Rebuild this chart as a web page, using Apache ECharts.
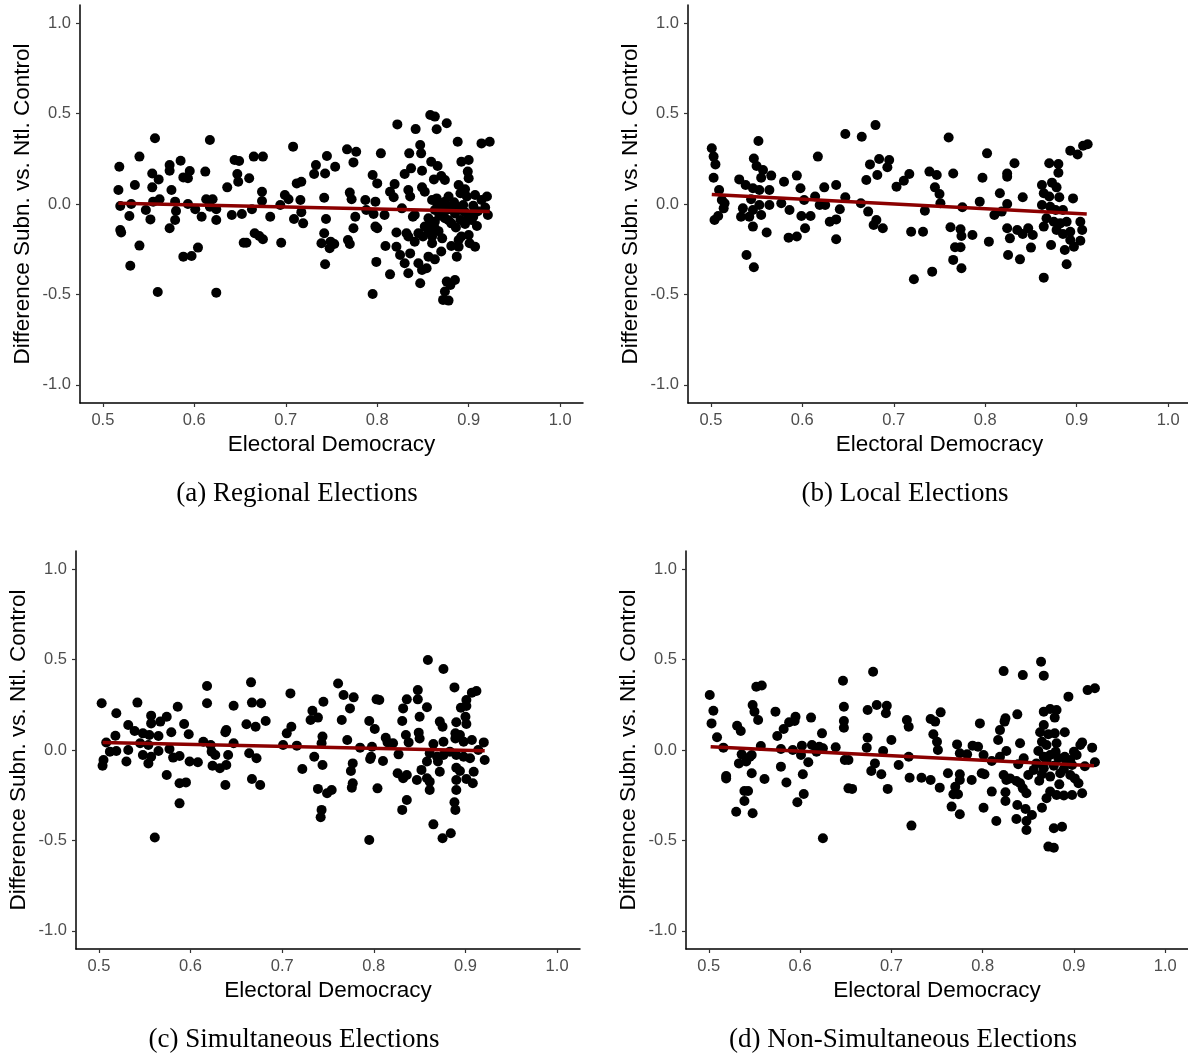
<!DOCTYPE html>
<html>
<head>
<meta charset="utf-8">
<title>Electoral Democracy scatter</title>
<script src="https://cdn.jsdelivr.net/npm/echarts@6/dist/echarts.min.js"></script>
<style>
  html, body { margin: 0; padding: 0; background: #fff; }
  #chart { width: 1188px; height: 1055px; }
</style>
</head>
<body>
<div id="chart"></div>
<script>
// tick labels
const xTicks = [0.5, 0.6, 0.7, 0.8, 0.9, 1.0]
const yTicks = [-1.0, -0.5, 0.0, 0.5, 1.0]

// (a) regional elections: [democracy, difference]
const regionalPts = [
  [0.557,0.363],[0.617,0.354],[0.540,0.262],[0.518,0.206],[0.573,0.215],[0.573,0.184],[0.585,0.239],[0.554,0.169],[0.561,0.136],[0.595,0.182],
  [0.588,0.147],[0.593,0.142],[0.612,0.179],[0.644,0.243],[0.649,0.238],[0.665,0.262],[0.675,0.262],[0.708,0.317],[0.647,0.166],[0.648,0.123],
  [0.660,0.142],[0.636,0.092],[0.674,0.068],[0.712,0.114],[0.717,0.123],[0.517,0.077],[0.535,0.105],[0.554,0.092],[0.575,0.077],[0.519,-0.011],
  [0.531,0.000],[0.529,-0.066],[0.547,-0.033],[0.552,-0.085],[0.555,0.013],[0.562,0.026],[0.579,0.013],[0.580,-0.039],[0.579,-0.088],[0.573,-0.134],
  [0.593,0.000],[0.601,-0.029],[0.608,-0.070],[0.613,0.026],[0.620,0.026],[0.617,-0.015],[0.624,-0.029],[0.624,-0.088],[0.641,-0.061],[0.652,-0.055],
  [0.663,-0.029],[0.674,0.017],[0.683,-0.070],[0.694,-0.006],[0.699,0.050],[0.703,0.026],[0.716,0.022],[0.709,-0.083],[0.719,-0.107],[0.519,-0.144],
  [0.520,-0.158],[0.540,-0.230],[0.530,-0.341],[0.560,-0.486],[0.624,-0.490],[0.588,-0.291],[0.597,-0.287],[0.604,-0.241],[0.654,-0.214],[0.657,-0.214],
  [0.666,-0.162],[0.671,-0.177],[0.675,-0.195],[0.695,-0.214],
  [0.717,-0.045],[0.745,0.265],[0.733,0.215],[0.731,0.166],[0.743,0.169],[0.754,0.206],[0.767,0.302],[0.777,0.289],[0.774,0.230],[0.742,0.035],
  [0.744,-0.083],[0.742,-0.162],[0.739,-0.217],[0.749,-0.208],[0.753,-0.221],[0.748,-0.245],[0.743,-0.333],[0.770,0.063],[0.772,0.026],[0.768,-0.199],
  [0.770,-0.221],[0.776,-0.070],[0.774,-0.134],[0.787,0.022],[0.798,0.013],[0.788,-0.033],[0.796,-0.055],[0.804,0.280],[0.795,0.160],[0.800,0.114],
  [0.798,-0.125],[0.800,-0.134],[0.808,-0.061],[0.809,-0.232],[0.799,-0.320],[0.795,-0.497],[0.814,-0.389],[0.822,0.440],[0.814,0.068],[0.819,0.110],
  [0.818,0.037],[0.821,-0.158],[0.821,-0.236],[0.825,-0.282],[0.830,0.166],[0.837,0.197],[0.835,0.280],[0.848,0.280],[0.847,0.326],[0.842,0.414],
  [0.834,0.077],[0.836,0.041],[0.827,-0.024],[0.832,-0.162],[0.834,-0.180],[0.836,-0.273],[0.830,-0.328],[0.834,-0.383],[0.845,-0.328],[0.849,-0.365],
  [0.854,-0.355],[0.847,-0.438],[0.849,0.184],[0.849,0.092],[0.852,0.068],[0.841,-0.061],[0.839,-0.070],[0.858,0.492],[0.863,0.483],[0.876,0.446],
  [0.865,0.413],[0.859,0.234],[0.866,0.210],[0.862,0.136],[0.870,0.155],[0.874,0.133],[0.860,0.022],[0.865,0.031],[0.869,0.004],[0.874,0.013],
  [0.878,0.041],[0.863,-0.033],[0.870,-0.052],[0.876,-0.033],[0.881,-0.015],[0.856,-0.079],[0.863,-0.098],[0.874,-0.079],[0.881,-0.107],[0.891,-0.088],
  [0.885,-0.052],[0.892,-0.033],[0.894,-0.006],[0.852,-0.125],[0.856,-0.153],[0.860,-0.180],[0.850,-0.180],[0.863,-0.134],[0.845,-0.162],[0.841,-0.208],
  [0.860,-0.217],[0.870,-0.263],[0.863,-0.306],[0.856,-0.291],[0.881,-0.232],[0.889,-0.199],[0.892,-0.180],[0.900,-0.171],[0.901,-0.217],[0.889,-0.236],
  [0.907,-0.236],[0.909,-0.122],[0.887,-0.291],[0.876,-0.429],[0.885,-0.420],[0.880,-0.448],[0.874,-0.484],[0.872,-0.530],[0.878,-0.534],[0.888,0.344],
  [0.892,0.234],[0.900,0.243],[0.899,0.179],[0.900,0.142],[0.889,0.105],[0.896,0.081],[0.891,0.059],[0.898,0.041],[0.907,0.050],[0.920,0.041],
  [0.914,0.022],[0.921,-0.061],[0.914,0.335],[0.923,0.344],[0.900,-0.070],[0.903,-0.088],
  [0.866,-0.010],[0.872,-0.020],[0.884,0.010],[0.888,-0.020],[0.896,-0.045],[0.905,-0.010],[0.910,-0.040],[0.868,-0.065],[0.878,-0.090],[0.858,-0.110],
  [0.886,-0.130],[0.896,-0.110],[0.905,-0.070],[0.918,-0.020],[0.867,-0.150],[0.871,-0.190]
]
const regionalFit = [[0.517, 0.004], [0.923, -0.042]]

// (b) local elections
const localPts = [
  [0.501,0.308],[0.503,0.262],[0.505,0.219],[0.503,0.145],[0.509,0.077],[0.512,0.022],[0.515,0.004],[0.514,-0.024],[0.508,-0.066],[0.504,-0.088],
  [0.552,0.348],[0.547,0.252],[0.550,0.210],[0.557,0.188],[0.555,0.145],[0.566,0.157],[0.531,0.136],[0.538,0.105],[0.546,0.087],[0.553,0.077],
  [0.564,0.077],[0.544,0.026],[0.553,-0.006],[0.564,-0.006],[0.535,-0.024],[0.533,-0.070],[0.542,-0.070],[0.555,-0.061],[0.546,-0.033],[0.546,-0.125],
  [0.561,-0.158],[0.539,-0.282],[0.547,-0.350],[0.580,0.123],[0.594,0.157],[0.598,0.087],[0.577,0.004],[0.586,-0.033],[0.602,0.022],[0.599,-0.066],
  [0.609,-0.066],[0.603,-0.134],[0.585,-0.186],[0.594,-0.180],[0.617,0.262],[0.614,0.041],[0.619,-0.006],[0.625,-0.006],[0.624,0.092],[0.637,0.105],
  [0.647,0.037],[0.641,-0.029],[0.637,-0.085],[0.630,-0.098],[0.637,-0.195],[0.647,0.387],[0.665,0.372],[0.680,0.436],[0.674,0.219],[0.684,0.249],
  [0.695,0.243],[0.693,0.203],[0.682,0.160],[0.670,0.133],[0.664,0.004],[0.672,-0.042],[0.681,-0.088],[0.678,-0.116],[0.688,-0.134],[0.703,0.096],
  [0.711,0.129],[0.717,0.166],[0.760,0.368],[0.739,0.179],[0.747,0.160],[0.765,0.169],[0.745,0.092],[0.750,0.055],[0.751,0.004],[0.734,-0.037],
  [0.719,-0.153],[0.732,-0.153],[0.762,-0.129],[0.773,-0.140],[0.774,-0.177],[0.767,-0.239],[0.773,-0.239],[0.786,-0.171],[0.765,-0.309],[0.774,-0.355],
  [0.742,-0.374],[0.722,-0.416],[0.775,-0.018],[0.794,0.013],[0.797,0.145],[0.802,0.280],[0.804,-0.208],[0.810,-0.061],[0.818,-0.042],[0.816,0.059],
  [0.824,0.000],[0.824,0.169],[0.824,0.151],[0.832,0.225],[0.824,-0.134],[0.835,-0.144],[0.827,-0.190],[0.841,-0.166],[0.847,-0.134],[0.852,-0.171],
  [0.850,-0.241],[0.841,0.037],[0.825,-0.282],[0.838,-0.306],[0.864,-0.407],[0.870,0.225],[0.880,0.221],[0.880,0.173],[0.862,0.105],[0.873,0.118],
  [0.878,0.092],[0.864,0.059],[0.870,0.041],[0.881,0.037],[0.896,0.031],[0.862,-0.006],[0.871,-0.015],[0.877,-0.033],[0.885,-0.033],[0.867,-0.079],
  [0.875,-0.098],[0.882,-0.107],[0.889,-0.098],[0.864,-0.125],[0.878,-0.144],[0.885,-0.166],[0.893,-0.153],[0.904,-0.098],[0.906,-0.144],[0.904,-0.203],
  [0.897,-0.236],[0.887,-0.254],[0.893,-0.199],[0.872,-0.227],[0.889,-0.333],[0.893,0.295],[0.901,0.274],[0.907,0.322],[0.912,0.330]
]
const localFit = [[0.501, 0.053], [0.911, -0.055]]

// (c) simultaneous elections
const simulPts = [
  [0.503,0.258],[0.519,0.203],[0.542,0.262],[0.532,0.138],[0.539,0.105],[0.518,0.079],[0.557,0.190],[0.567,0.157],[0.574,0.184],[0.557,0.147],
  [0.548,0.092],[0.555,0.083],[0.565,0.077],[0.579,0.098],[0.586,0.239],[0.593,0.144],[0.598,0.087],[0.508,0.041],[0.512,-0.009],[0.505,-0.055],
  [0.504,-0.087],[0.519,-0.006],[0.530,-0.064],[0.532,0.000],[0.548,-0.028],[0.554,-0.074],[0.557,-0.037],[0.565,-0.006],[0.554,0.028],[0.545,0.037],
  [0.577,0.006],[0.581,-0.042],[0.588,-0.033],[0.574,-0.138],[0.599,-0.064],[0.608,-0.068],[0.588,-0.184],[0.595,-0.179],[0.588,-0.295],[0.561,-0.484],
  [0.618,0.354],[0.618,0.258],[0.614,0.046],[0.622,0.028],[0.623,-0.009],[0.627,-0.028],[0.624,-0.087],[0.632,-0.101],[0.639,-0.083],[0.641,-0.028],
  [0.638,-0.193],[0.647,0.245],[0.638,0.098],[0.639,0.110],[0.647,0.037],[0.666,0.374],[0.667,0.262],[0.677,0.258],[0.661,0.142],[0.671,0.129],
  [0.682,0.160],[0.664,-0.018],[0.672,-0.046],[0.667,-0.160],[0.676,-0.193],[0.709,0.313],[0.701,0.028],[0.705,0.092],[0.710,0.129],
  [0.716,0.024],[0.745,0.267],[0.733,0.217],[0.739,0.179],[0.731,0.166],[0.761,0.368],[0.767,0.304],[0.778,0.291],[0.774,0.230],[0.765,0.166],
  [0.744,0.074],[0.743,0.037],[0.735,-0.037],[0.744,-0.083],[0.722,-0.105],[0.739,-0.215],[0.749,-0.239],[0.754,-0.221],[0.743,-0.331],[0.742,-0.372],
  [0.771,0.055],[0.785,0.013],[0.777,-0.074],[0.775,-0.116],[0.777,-0.184],[0.776,-0.208],[0.795,0.160],[0.801,0.116],[0.798,0.018],[0.797,-0.037],
  [0.796,-0.050],[0.810,-0.061],[0.804,-0.212],[0.795,-0.497],[0.803,0.280],[0.806,0.276],[0.813,0.068],[0.815,0.042],[0.821,0.037],[0.827,-0.024],
  [0.832,0.230],[0.831,0.160],[0.836,0.280],[0.848,0.331],[0.848,0.280],[0.850,0.184],[0.858,0.236],[0.835,0.083],[0.838,0.042],[0.849,0.096],
  [0.850,0.064],[0.826,-0.129],[0.832,-0.156],[0.836,-0.138],[0.847,-0.166],[0.852,-0.110],[0.858,-0.156],[0.861,-0.221],[0.861,-0.175],[0.836,-0.276],
  [0.831,-0.331],[0.859,0.497],[0.876,0.448],[0.865,-0.411],[0.875,-0.488],[0.884,-0.460],[0.888,0.346],[0.907,0.317],[0.912,0.326],[0.901,0.276],
  [0.895,0.234],[0.901,0.243],[0.872,0.157],[0.875,0.129],[0.890,0.153],[0.900,0.184],[0.901,0.144],[0.889,0.092],[0.894,0.083],[0.889,0.064],
  [0.898,0.046],[0.865,0.033],[0.876,0.046],[0.861,-0.018],[0.869,-0.037],[0.876,-0.028],[0.883,-0.009],[0.890,-0.028],[0.898,-0.037],[0.905,-0.046],
  [0.907,0.055],[0.920,0.042],[0.921,-0.055],[0.914,0.000],[0.858,-0.064],[0.870,-0.064],[0.872,-0.120],[0.890,-0.098],[0.894,-0.116],[0.890,-0.166],
  [0.901,-0.160],[0.908,-0.184],[0.890,-0.221],[0.909,-0.120],[0.888,-0.289],[0.889,-0.331]
]
const simulFit = [[0.504, 0.041], [0.921, -0.004]]

// (d) non-simultaneous elections
const nonSimulPts = [
  [0.501,0.304],[0.505,0.217],[0.503,0.147],[0.509,0.070],[0.516,0.013],[0.519,-0.144],[0.519,-0.157],[0.531,0.134],[0.535,0.105],[0.536,-0.024],
  [0.545,-0.037],[0.533,-0.074],[0.541,-0.064],[0.547,-0.028],[0.547,-0.129],[0.539,-0.227],[0.543,-0.227],[0.539,-0.282],[0.530,-0.341],[0.548,-0.350],
  [0.552,0.350],[0.558,0.357],[0.548,0.249],[0.550,0.212],[0.554,0.166],[0.557,0.022],[0.561,-0.160],[0.573,0.212],[0.575,0.077],[0.582,0.116],
  [0.588,0.153],[0.594,0.160],[0.595,0.184],[0.579,0.006],[0.579,-0.092],[0.585,-0.180],[0.592,0.000],[0.602,0.024],[0.601,-0.028],[0.609,-0.068],
  [0.603,-0.134],[0.604,-0.243],[0.597,-0.289],[0.612,0.179],[0.613,0.028],[0.621,0.018],[0.625,0.009],[0.618,-0.009],[0.624,0.092],[0.625,-0.488],
  [0.639,0.015],[0.647,0.383],[0.648,0.239],[0.648,0.160],[0.648,0.123],[0.649,-0.055],[0.653,-0.055],[0.653,-0.212],[0.657,-0.215],[0.680,0.433],
  [0.674,0.221],[0.684,0.249],[0.695,0.245],[0.694,0.203],[0.674,0.068],[0.673,0.013],[0.691,-0.006],[0.700,0.055],[0.682,-0.074],[0.678,-0.116],
  [0.689,-0.134],[0.696,-0.215],[0.708,-0.083],
  [0.717,0.166],[0.719,0.129],[0.719,-0.037],[0.720,-0.153],[0.722,-0.418],[0.733,-0.153],[0.743,-0.166],[0.753,-0.208],[0.743,0.171],[0.748,0.157],
  [0.754,0.208],[0.746,0.087],[0.750,0.046],[0.751,0.000],[0.762,-0.129],[0.775,-0.134],[0.775,-0.166],[0.770,-0.203],[0.768,-0.245],[0.773,-0.245],
  [0.766,-0.313],[0.775,-0.355],[0.772,0.031],[0.775,-0.018],[0.783,-0.024],[0.789,0.024],[0.795,0.018],[0.797,0.147],[0.801,-0.028],[0.788,-0.166],
  [0.799,-0.129],[0.802,-0.134],[0.801,-0.319],[0.810,-0.230],[0.815,-0.392],[0.823,0.436],[0.844,0.414],[0.864,0.488],[0.867,0.411],[0.825,0.175],
  [0.824,0.157],[0.819,0.110],[0.817,0.055],[0.826,-0.006],[0.819,-0.037],[0.810,-0.061],[0.838,0.197],[0.841,0.037],[0.845,-0.046],[0.839,-0.079],
  [0.823,-0.138],[0.826,-0.166],[0.830,-0.157],[0.825,-0.234],[0.825,-0.282],[0.837,-0.171],[0.841,-0.184],[0.850,-0.138],[0.848,-0.239],[0.844,-0.212],
  [0.838,-0.304],[0.847,-0.326],[0.837,-0.381],[0.848,-0.392],[0.854,-0.359],[0.848,-0.442],[0.865,-0.319],[0.867,0.212],[0.874,0.227],[0.881,0.221],
  [0.879,0.179],[0.867,0.138],[0.863,0.098],[0.872,0.087],[0.879,0.092],[0.890,0.098],[0.865,0.046],[0.870,0.028],[0.881,0.037],[0.861,-0.006],
  [0.867,-0.037],[0.874,-0.028],[0.883,-0.046],[0.890,-0.037],[0.896,-0.055],[0.903,-0.028],[0.907,0.028],[0.909,0.042],[0.920,0.013],[0.923,-0.068],
  [0.859,-0.074],[0.867,-0.101],[0.878,-0.087],[0.889,-0.105],[0.898,-0.083],[0.856,-0.110],[0.865,-0.134],[0.874,-0.147],[0.885,-0.129],[0.896,-0.138],
  [0.901,-0.157],[0.909,-0.239],[0.905,-0.184],[0.898,-0.249],[0.889,-0.252],[0.881,-0.249],[0.874,-0.230],[0.870,-0.267],[0.878,-0.433],[0.887,-0.424],
  [0.872,-0.534],[0.878,-0.540],[0.894,0.295],[0.915,0.331],[0.923,0.341],
  [0.870,-0.060],[0.880,-0.010],[0.892,-0.070],[0.900,-0.010],[0.912,-0.090],[0.884,-0.190],[0.862,-0.170]
]
const nonSimulFit = [[0.502, 0.018], [0.922, -0.087]]

const captions = ['(a) Regional Elections', '(b) Local Elections', '(c) Simultaneous Elections', '(d) Non-Simultaneous Elections']
const xTitle = 'Electoral Democracy'
const yTitle = 'Difference Subn. vs. Ntl. Control'

// layout of the four panels (pixels)
const layout = [
  { grid: { left: 80, top: 5, width: 503, height: 398 }, cap: [297, 494] },
  { grid: { left: 688, top: 5, width: 503, height: 398 }, cap: [905, 494] },
  { grid: { left: 76, top: 551, width: 504, height: 398 }, cap: [294, 1040] },
  { grid: { left: 686, top: 551, width: 502, height: 398 }, cap: [903, 1040] }
]
const pointSets = [regionalPts, localPts, simulPts, nonSimulPts]
const fitSets = [regionalFit, localFit, simulFit, nonSimulFit]

const sans = 'Liberation Sans, Arial, sans-serif'
const fmt = function (v) { return Number(v).toFixed(1) }

const grids = []
const xAxes = []
const yAxes = []
const series = []
const graphics = []

layout.forEach(function (p, i) {
  grids.push(Object.assign({ containLabel: false, outerBoundsMode: 'none' }, p.grid))
  xAxes.push({
    type: 'value',
    gridIndex: i,
    min: 0.475,
    max: 1.025,
    name: xTitle,
    nameLocation: 'middle',
    nameGap: 30,
    nameTextStyle: { fontSize: 22.5, color: '#000', fontFamily: sans },
    axisLine: { onZero: false, lineStyle: { color: '#000', width: 1.5 } },
    axisTick: { show: true, length: 4, customValues: xTicks, lineStyle: { color: '#333', width: 1.2 } },
    axisLabel: { customValues: xTicks, formatter: fmt, margin: 9, fontSize: 16.5, color: '#4d4d4d', fontFamily: sans },
    splitLine: { show: false }
  })
  yAxes.push({
    type: 'value',
    gridIndex: i,
    min: -1.1,
    max: 1.1,
    name: yTitle,
    nameLocation: 'middle',
    nameGap: 46,
    nameRotate: 90,
    nameTextStyle: { fontSize: 22.5, color: '#000', fontFamily: sans },
    axisLine: { show: true, onZero: false, lineStyle: { color: '#000', width: 1.5 } },
    axisTick: { show: true, length: 4, customValues: yTicks, lineStyle: { color: '#333', width: 1.2 } },
    axisLabel: { customValues: yTicks, formatter: fmt, margin: 9, fontSize: 16.5, color: '#4d4d4d', fontFamily: sans },
    splitLine: { show: false }
  })
  series.push({
    type: 'scatter',
    xAxisIndex: i,
    yAxisIndex: i,
    symbol: 'circle',
    symbolSize: 10,
    itemStyle: { color: '#000', opacity: 1 },
    emphasis: { disabled: true },
    data: pointSets[i],
    z: 2
  })
  series.push({
    type: 'line',
    xAxisIndex: i,
    yAxisIndex: i,
    showSymbol: false,
    lineStyle: { color: '#8b0000', width: 3.5 },
    data: fitSets[i],
    z: 5
  })
  graphics.push({
    type: 'text',
    x: p.cap[0],
    y: p.cap[1],
    style: {
      text: captions[i],
      font: '27px "Liberation Serif", "Times New Roman", serif',
      fill: '#000',
      align: 'center',
      verticalAlign: 'middle',
      textAlign: 'center',
      textVerticalAlign: 'middle'
    }
  })
})

const chart = echarts.init(document.getElementById('chart'))
chart.setOption({
  backgroundColor: '#fff',
  animation: false,
  grid: grids,
  xAxis: xAxes,
  yAxis: yAxes,
  series: series,
  graphic: graphics
})
</script>
</body>
</html>
